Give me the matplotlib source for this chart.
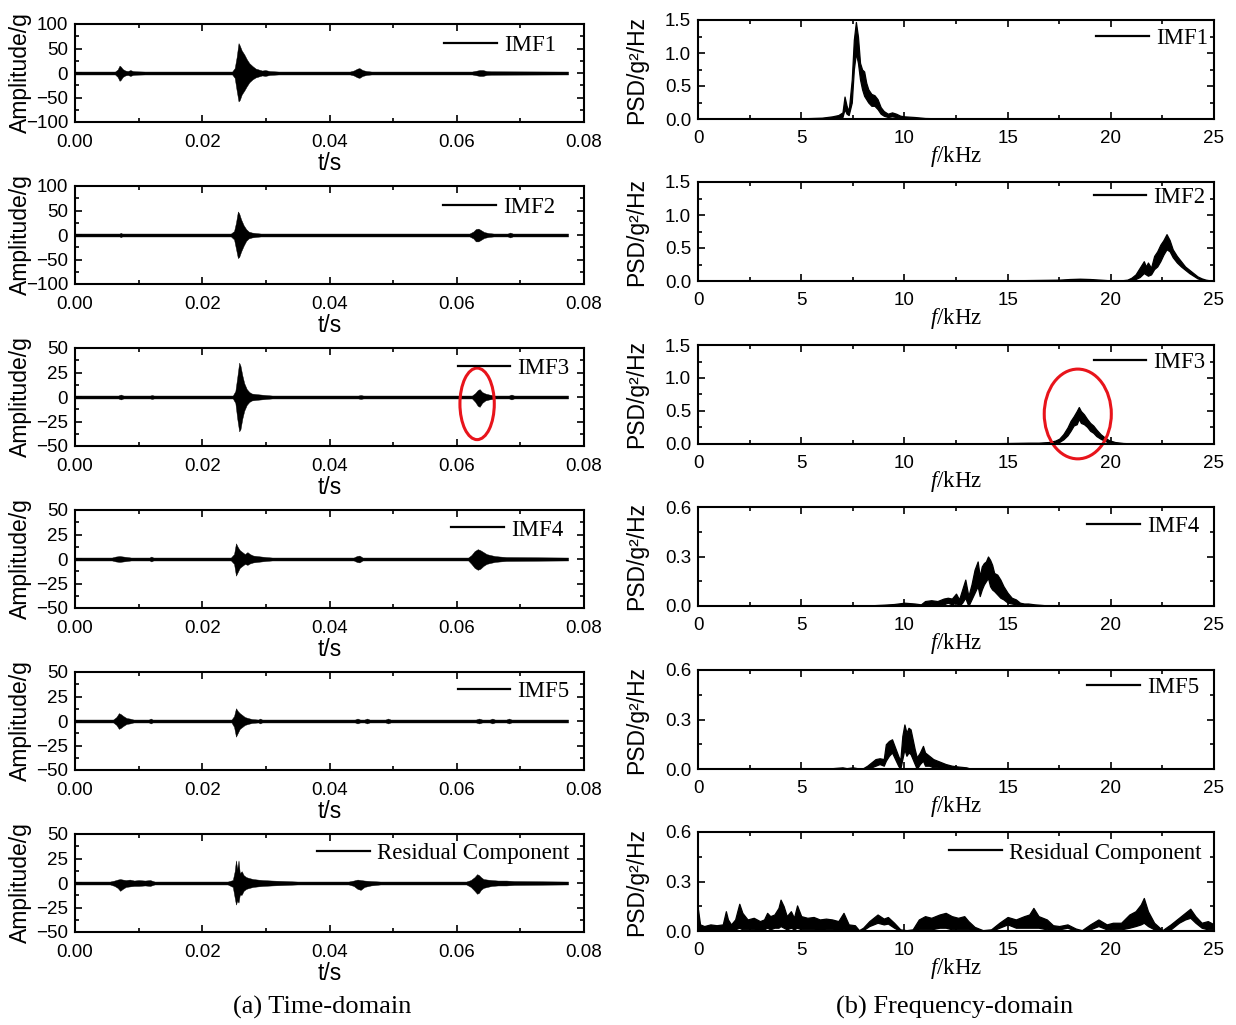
import matplotlib
matplotlib.use("Agg")
import matplotlib.pyplot as plt
from matplotlib.patches import Ellipse
from matplotlib.ticker import MultipleLocator, FormatStrFormatter
import numpy as np

plt.rcParams["mathtext.fontset"] = "custom"
plt.rcParams["mathtext.it"] = "Liberation Serif:italic"
plt.rcParams["mathtext.rm"] = "Liberation Serif"

SANS = "Liberation Sans"
SERIF = "Liberation Serif"

labels = ["IMF1", "IMF2", "IMF3", "IMF4", "IMF5", "Residual Component"]

# ---------------- time-domain envelopes (t in s, upper / lower amplitude in g) ----------------
imf1_t = [0.0000, 0.0063, 0.0067, 0.0070, 0.0072, 0.0075, 0.0079, 0.0083, 0.0087, 0.0091, 0.0096, 0.0110,
          0.0247, 0.0251, 0.0254, 0.0257, 0.0259, 0.0262, 0.0266, 0.0270, 0.0274, 0.0279, 0.0284, 0.0289,
          0.0294, 0.0299, 0.0306, 0.0320, 0.0432, 0.0438, 0.0444, 0.0447, 0.0452, 0.0458, 0.0466,
          0.0624, 0.0630, 0.0636, 0.0641, 0.0647, 0.0654, 0.0775]
imf1_up = [3, 3, 7, 15, 13, 8, 5, 4, 6, 4, 3.5, 3,
           3, 10, 32, 61, 56, 46, 38, 28, 20, 14, 9, 7, 5, 6, 4, 3,
           3, 5, 9, 10, 6, 4, 3,
           3, 4.5, 6, 6, 4, 3.5, 3]
imf1_dn = [3, 3, 8, 16, 14, 8, 5, 4, 6, 4, 3.5, 3,
           3, 10, 35, 58, 55, 44, 36, 27, 19, 13, 9, 7, 5, 6, 4, 3,
           3, 5, 9, 10, 6, 4, 3,
           3, 4.5, 6, 6, 4, 3.5, 3]

imf2_t = [0.0000, 0.0070, 0.0072, 0.0074,
          0.0245, 0.0250, 0.0253, 0.0256, 0.0258, 0.0261, 0.0265, 0.0269, 0.0273, 0.0278, 0.0284, 0.0292,
          0.0620, 0.0626, 0.0630, 0.0634, 0.0638, 0.0643, 0.0650, 0.0658,
          0.0680, 0.0684, 0.0688, 0.0775]
imf2_up = [3, 3, 4.5, 3,
           3, 8, 25, 48, 44, 32, 20, 12, 7, 5, 4, 3,
           3, 7, 12, 13, 10, 6, 4, 3,
           3, 5, 3, 3]
imf2_dn = [3, 3, 4.5, 3,
           3, 9, 28, 47, 45, 34, 22, 12, 7, 5, 4, 3,
           3, 7, 13, 13, 10, 6, 4, 3,
           3, 5, 3, 3]

imf3_t = [0.0000, 0.0068, 0.0072, 0.0076, 0.0118, 0.0121, 0.0124,
          0.0248, 0.0252, 0.0255, 0.0258, 0.0260, 0.0263, 0.0266, 0.0270, 0.0274, 0.0278, 0.0284, 0.0292,
          0.0300, 0.0310, 0.0445, 0.0449, 0.0453,
          0.0624, 0.0629, 0.0633, 0.0636, 0.0640, 0.0645, 0.0651, 0.0660,
          0.0682, 0.0686, 0.0690, 0.0775]
imf3_up = [1.5, 1.5, 2.5, 1.5, 1.5, 2, 1.5,
           1.5, 6, 20, 35, 32, 22, 14, 8, 5, 3.5, 3, 2.5, 2, 1.5,
           1.5, 2, 1.5,
           1.5, 4, 7, 8, 5, 3.5, 2.5, 1.5,
           1.5, 2.5, 1.5, 1.5]
imf3_dn = [1.5, 1.5, 2.5, 1.5, 1.5, 2, 1.5,
           1.5, 6, 22, 35, 33, 22, 14, 8, 5, 3.5, 3, 2.5, 2, 1.5,
           1.5, 2, 1.5,
           1.5, 5, 9, 10, 6, 3.5, 2.5, 1.5,
           1.5, 2.5, 1.5, 1.5]

imf4_t = [0.0000, 0.0058, 0.0064, 0.0070, 0.0076, 0.0082, 0.0088, 0.0117, 0.0120, 0.0123,
          0.0245, 0.0250, 0.0253, 0.0256, 0.0259, 0.0263, 0.0267, 0.0271, 0.0275, 0.0280, 0.0286, 0.0293,
          0.0300, 0.0310, 0.0438, 0.0443, 0.0447, 0.0452,
          0.0618, 0.0623, 0.0628, 0.0633, 0.0637, 0.0642, 0.0647, 0.0653, 0.0660, 0.0668, 0.0678, 0.0775]
imf4_up = [1.5, 1.5, 2.5, 3, 2.5, 2, 1.5, 1.5, 2.5, 1.5,
           1.5, 5, 16, 12, 9, 7, 5, 7, 5, 3.5, 3, 2.5, 2, 1.5,
           1.5, 3, 3.5, 1.5,
           1.5, 4, 8, 10, 9, 7, 5, 4, 3, 2.5, 2, 1.5]
imf4_dn = [1.5, 1.5, 2.5, 3, 2.5, 2, 1.5, 1.5, 2.5, 1.5,
           1.5, 5, 17, 13, 9, 7, 5, 6, 4.5, 3.5, 3, 2.5, 2, 1.5,
           1.5, 3, 3.5, 1.5,
           1.5, 5, 9, 11, 10, 7, 5, 4, 3, 2.5, 2, 1.5]

imf5_t = [0.0000, 0.0060, 0.0065, 0.0069, 0.0072, 0.0076, 0.0081, 0.0086, 0.0092,
          0.0116, 0.0119, 0.0122,
          0.0246, 0.0250, 0.0253, 0.0256, 0.0259, 0.0263, 0.0267, 0.0272, 0.0278,
          0.0288, 0.0291, 0.0294, 0.0440, 0.0444, 0.0448, 0.0455, 0.0459, 0.0463,
          0.0488, 0.0492, 0.0496, 0.0630, 0.0635, 0.0640, 0.0652, 0.0656, 0.0660,
          0.0678, 0.0682, 0.0686, 0.0775]
imf5_up = [1.5, 1.5, 4, 8, 7, 5, 3, 2.5, 1.5,
           1.5, 2.5, 1.5,
           1.5, 5, 13, 10, 8, 6, 4, 3, 2,
           1.5, 2.5, 1.5, 1.5, 2.5, 1.5, 1.5, 2.5, 1.5,
           1.5, 2.5, 1.5, 1.5, 2.5, 1.5, 1.5, 2.5, 1.5,
           1.5, 2.5, 1.5, 1.5]
imf5_dn = [1.5, 1.5, 4, 8, 7, 5, 3, 2.5, 1.5,
           1.5, 2.5, 1.5,
           1.5, 6, 16, 12, 8, 6, 4, 3, 2,
           1.5, 2.5, 1.5, 1.5, 2.5, 1.5, 1.5, 2.5, 1.5,
           1.5, 2.5, 1.5, 1.5, 2.5, 1.5, 1.5, 2.5, 1.5,
           1.5, 2.5, 1.5, 1.5]

res_t = [0.0000, 0.0055, 0.0062, 0.0067, 0.0071, 0.0075, 0.0080, 0.0086, 0.0093, 0.0100, 0.0110, 0.0118, 0.0125,
         0.0240, 0.0248, 0.0251, 0.0253, 0.0255, 0.0257, 0.0259, 0.0262, 0.0265, 0.0269, 0.0274, 0.0280,
         0.0287, 0.0295, 0.0310, 0.0330, 0.0350,
         0.0430, 0.0438, 0.0444, 0.0449, 0.0455, 0.0465, 0.0480,
         0.0615, 0.0622, 0.0628, 0.0632, 0.0635, 0.0638, 0.0642, 0.0648, 0.0655, 0.0665, 0.0678, 0.0690,
         0.0775]
res_up = [1.5, 1.5, 2.5, 3.5, 4, 3.5, 3, 3.5, 2.5, 3, 2.5, 3, 1.5,
          1.5, 3, 12, 23, 14, 23, 10, 12, 8, 6, 5, 4, 3.5, 3, 2.5, 2, 1.5,
          1.5, 2.5, 3.5, 3, 2.5, 2, 1.5,
          1.5, 3, 6, 9, 8, 6, 4, 3.5, 3, 2.5, 2.5, 2,
          1.5]
res_dn = [1.5, 1.5, 3, 5, 8, 6, 4, 3.5, 3, 3, 2.5, 3, 1.5,
          1.5, 4, 15, 22, 18, 20, 12, 12, 8, 6, 5, 4, 3.5, 3, 2.5, 2, 1.5,
          1.5, 3, 6, 7, 4, 2.5, 1.5,
          1.5, 4, 8, 11, 10, 7, 5, 4, 3, 2.5, 2.5, 2,
          1.5]

time_series = [(imf1_t, imf1_up, imf1_dn), (imf2_t, imf2_up, imf2_dn), (imf3_t, imf3_up, imf3_dn),
               (imf4_t, imf4_up, imf4_dn), (imf5_t, imf5_up, imf5_dn), (res_t, res_up, res_dn)]
time_ylim = [100, 100, 50, 50, 50, 50]

# ---------------- PSD bands (f in kHz, upper / lower PSD in g^2/Hz) ----------------
psd1_f = [0, 5.0, 6.0, 6.5, 6.8, 7.0, 7.1, 7.2, 7.3, 7.45, 7.55, 7.65, 7.75, 7.85, 7.95, 8.05, 8.15, 8.25,
          8.4, 8.55, 8.7, 8.85, 9.0, 9.2, 9.4, 9.6, 9.8, 10.0, 10.5, 11.0, 12.0, 13.0, 25.0]
psd1_hi = [0.005, 0.01, 0.02, 0.04, 0.06, 0.1, 0.34, 0.2, 0.12, 0.6, 1.2, 1.47, 1.25, 0.85, 0.75, 0.72, 0.55,
           0.45, 0.38, 0.36, 0.3, 0.18, 0.12, 0.08, 0.1, 0.08, 0.05, 0.04, 0.03, 0.015, 0.008, 0.005, 0.003]
psd1_lo = [0, 0, 0, 0.01, 0.02, 0.03, 0.15, 0.08, 0.06, 0.25, 0.75, 1.0, 0.85, 0.6, 0.45, 0.35, 0.3,
           0.25, 0.2, 0.2, 0.15, 0.08, 0.05, 0.03, 0.04, 0.03, 0.02, 0.01, 0.005, 0, 0, 0, 0]

psd2_f = [0, 10.0, 15.0, 17.5, 18.0, 18.5, 19.0, 19.5, 20.0, 20.5, 20.8, 21.0, 21.2, 21.4, 21.6, 21.7, 21.8,
          21.95, 22.1, 22.25, 22.4, 22.55, 22.7, 22.85, 23.0, 23.2, 23.4, 23.6, 23.8, 24.0, 24.2, 24.4, 24.6,
          24.8, 25.0]
psd2_hi = [0.003, 0.005, 0.01, 0.02, 0.03, 0.035, 0.03, 0.02, 0.01, 0.01, 0.02, 0.05, 0.1, 0.2, 0.3, 0.22,
           0.28, 0.2, 0.38, 0.45, 0.55, 0.62, 0.71, 0.62, 0.48, 0.38, 0.3, 0.22, 0.17, 0.12, 0.07, 0.04, 0.02,
           0.01, 0.005]
psd2_lo = [0, 0, 0, 0.005, 0.015, 0.02, 0.015, 0.01, 0, 0, 0.005, 0.01, 0.03, 0.06, 0.12, 0.1,
           0.08, 0.1, 0.18, 0.22, 0.3, 0.4, 0.48, 0.45, 0.36, 0.28, 0.22, 0.17, 0.12, 0.08, 0.04, 0.02, 0.01,
           0, 0]

psd3_f = [0, 12.0, 13.5, 15.0, 16.0, 16.5, 17.0, 17.3, 17.5, 17.7, 17.9, 18.05, 18.2, 18.35, 18.45, 18.55,
          18.7, 18.85, 19.0, 19.15, 19.3, 19.5, 19.7, 19.9, 20.2, 20.6, 21.0, 21.8, 22.2, 25.0]
psd3_hi = [0, 0.002, 0.01, 0.015, 0.02, 0.02, 0.03, 0.05, 0.08, 0.15, 0.25, 0.35, 0.42, 0.5, 0.56, 0.5,
           0.45, 0.38, 0.32, 0.28, 0.22, 0.15, 0.1, 0.06, 0.03, 0.015, 0.01, 0.01, 0.003, 0]
psd3_lo = [0, 0, 0, 0.005, 0.005, 0.008, 0.01, 0.02, 0.03, 0.07, 0.13, 0.2, 0.28, 0.3, 0.38, 0.32,
           0.3, 0.26, 0.2, 0.17, 0.12, 0.08, 0.05, 0.02, 0.01, 0.005, 0, 0, 0, 0]

psd4_f = [0, 8.0, 9.0, 9.5, 10.0, 10.5, 10.8, 11.0, 11.3, 11.6, 11.9, 12.1, 12.3, 12.5, 12.65, 12.8, 12.95,
          13.1, 13.25, 13.4, 13.55, 13.65, 13.75, 13.85, 13.95, 14.05, 14.15, 14.25, 14.35, 14.5, 14.65, 14.8,
          15.0, 15.2, 15.4, 15.6, 15.8, 16.0, 16.3, 16.8, 17.5, 25.0]
psd4_hi = [0, 0.002, 0.008, 0.012, 0.02, 0.015, 0.01, 0.03, 0.035, 0.03, 0.045, 0.05, 0.045, 0.075, 0.04,
           0.1, 0.16, 0.06, 0.13, 0.22, 0.27, 0.18, 0.24, 0.26, 0.27, 0.3, 0.28, 0.25, 0.2, 0.19, 0.16, 0.12,
           0.08, 0.05, 0.04, 0.02, 0.015, 0.015, 0.01, 0.005, 0.002, 0]
psd4_lo = [0, 0, 0, 0, 0.005, 0, 0, 0.005, 0.01, 0.005, 0.01, 0.02, 0.01, 0.02, 0,
           0.02, 0.05, 0, 0.04, 0.08, 0.12, 0.06, 0.1, 0.13, 0.15, 0.17, 0.12, 0.1, 0.09, 0.07, 0.05, 0.04,
           0.02, 0.015, 0.01, 0.005, 0.005, 0, 0, 0, 0, 0]

psd5_f = [0, 5.0, 6.5, 7.0, 7.2, 7.5, 7.8, 8.0, 8.2, 8.4, 8.6, 8.8, 9.0, 9.1, 9.25, 9.4, 9.55, 9.7, 9.8, 9.9,
          10.0, 10.1, 10.2, 10.3, 10.4, 10.5, 10.6, 10.75, 10.9, 11.0, 11.2, 11.4, 11.6, 11.8, 12.0, 12.3,
          12.6, 13.0, 13.2, 25.0]
psd5_hi = [0, 0.003, 0.005, 0.01, 0.005, 0.01, 0.003, 0.005, 0.02, 0.04, 0.06, 0.065, 0.06, 0.15, 0.17, 0.18,
           0.13, 0.08, 0.05, 0.2, 0.27, 0.22, 0.25, 0.24, 0.18, 0.12, 0.07, 0.1, 0.14, 0.1, 0.08, 0.06, 0.05,
           0.04, 0.03, 0.02, 0.015, 0.01, 0.002, 0]
psd5_lo = [0, 0, 0, 0, 0, 0, 0, 0, 0, 0.01, 0.02, 0.03, 0.02, 0.05, 0.08, 0.1,
           0.06, 0.02, 0, 0.06, 0.12, 0.08, 0.1, 0.09, 0.06, 0.03, 0, 0.03, 0.05, 0.02, 0.02, 0.01, 0.01,
           0.005, 0.005, 0, 0, 0, 0, 0]

psdr_f = [0.0, 0.1, 0.3, 0.6, 0.9, 1.2, 1.35, 1.45, 1.6, 1.8, 2.0, 2.15, 2.4, 2.7, 3.0, 3.2, 3.35, 3.5, 3.7,
          3.9, 4.0, 4.15, 4.3, 4.5, 4.65, 4.8, 5.0, 5.3, 5.6, 5.9, 6.2, 6.5, 6.8, 7.05, 7.3, 7.6, 7.8, 8.0,
          8.3, 8.7, 9.0, 9.2, 9.5, 9.8, 10.1, 10.4, 10.7, 11.0, 11.3, 11.7, 12.0, 12.3, 12.6, 12.9, 13.1,
          13.4, 13.8, 14.2, 14.6, 15.0, 15.4, 15.8, 16.05, 16.25, 16.5, 16.9, 17.2, 17.5, 17.9, 18.3, 18.6,
          19.0, 19.4, 19.8, 20.1, 20.5, 20.9, 21.2, 21.45, 21.6, 21.8, 22.1, 22.5, 22.9, 23.3, 23.6, 23.85,
          24.1, 24.4, 24.7, 25.0]
psdr_hi = [0.13, 0.04, 0.03, 0.04, 0.035, 0.04, 0.12, 0.07, 0.04, 0.07, 0.165, 0.11, 0.07, 0.08, 0.06, 0.07,
           0.11, 0.09, 0.1, 0.14, 0.19, 0.15, 0.09, 0.12, 0.08, 0.155, 0.09, 0.08, 0.085, 0.07, 0.075, 0.07,
           0.06, 0.11, 0.04, 0.035, 0.005, 0.02, 0.06, 0.1, 0.075, 0.085, 0.05, 0.01, 0.005, 0.01, 0.07, 0.09,
           0.08, 0.1, 0.11, 0.09, 0.08, 0.09, 0.06, 0.025, 0.005, 0.01, 0.05, 0.085, 0.07, 0.09, 0.1, 0.14,
           0.09, 0.07, 0.035, 0.03, 0.04, 0.015, 0.005, 0.04, 0.07, 0.04, 0.05, 0.05, 0.1, 0.12, 0.16, 0.2,
           0.12, 0.05, 0.005, 0.04, 0.08, 0.11, 0.135, 0.09, 0.05, 0.06, 0.04]
psdr_lo = [0, 0, 0.005, 0.005, 0.005, 0.005, 0.01, 0.005, 0.005, 0.01, 0.02, 0.01, 0.01, 0.01, 0.005, 0.01,
           0.02, 0.01, 0.02, 0.02, 0.03, 0.02, 0.01, 0.02, 0.01, 0.02, 0.01, 0.01, 0.01, 0.005, 0.01, 0.01,
           0.005, 0.01, 0.005, 0, 0, 0.005, 0.03, 0.05, 0.04, 0.045, 0.02, 0, 0, 0, 0.01, 0.01,
           0.01, 0.02, 0.02, 0.01, 0.01, 0.01, 0.01, 0.005, 0, 0, 0.02, 0.04, 0.02, 0.02, 0.02, 0.02,
           0.02, 0.01, 0.005, 0.01, 0.02, 0, 0, 0.01, 0.03, 0.01, 0.01, 0.01, 0.02, 0.03, 0.04, 0.05,
           0.03, 0.01, 0, 0.01, 0.05, 0.07, 0.08, 0.05, 0.02, 0.01, 0.01]

psd_series = [(psd1_f, psd1_hi, psd1_lo), (psd2_f, psd2_hi, psd2_lo), (psd3_f, psd3_hi, psd3_lo),
              (psd4_f, psd4_hi, psd4_lo), (psd5_f, psd5_hi, psd5_lo), (psdr_f, psdr_hi, psdr_lo)]
psd_ymax = [1.5, 1.5, 1.5, 0.6, 0.6, 0.6]

# ---------------- layout (pixels in a 1236 x 1025 canvas) ----------------
W, H = 1236, 1025
left_tops = [24, 186, 348, 510, 672, 834]
right_tops = [20, 182, 345, 507, 670, 832]
left_legend_xy = [(0.945, 0.776), (0.943, 0.776), (0.971, 0.786), (0.959, 0.796), (0.971, 0.806), (0.971, 0.806)]
right_legend_xy = [(0.988, 0.818), (0.983, 0.84), (0.983, 0.82), (0.971, 0.80), (0.971, 0.82), (0.975, 0.788)]

fig = plt.figure(figsize=(W / 100, H / 100), dpi=100)

TICK_FS = 13.5
LABEL_FS = 16.5
LEG_FS = 16.5


def style_axes(ax):
    for sp in ax.spines.values():
        sp.set_linewidth(1.5)
    ax.tick_params(which="both", direction="in", top=True, right=True, width=1.2)
    ax.tick_params(which="major", length=5)
    ax.tick_params(which="minor", length=3)
    for lab in ax.get_xticklabels() + ax.get_yticklabels():
        lab.set_fontfamily(SANS)
        lab.set_fontsize(TICK_FS)


def add_legend(ax, text, xy):
    h, = ax.plot([], [], color="black", lw=1.6)
    ax.legend([h], [text], loc="center right", bbox_to_anchor=xy, frameon=False,
              prop={"family": SERIF, "size": LEG_FS}, handlelength=2.3, handletextpad=0.3,
              borderpad=0, borderaxespad=0)


for i in range(6):
    # time domain
    top = left_tops[i]
    ax = fig.add_axes([75 / W, 1 - (top + 98) / H, 509 / W, 98 / H])
    t, up, dn = time_series[i]
    t = np.asarray(t)
    ax.fill_between(t, -np.asarray(dn), np.asarray(up), color="black", lw=0.3)
    lim = time_ylim[i]
    ax.set_xlim(0, 0.08)
    ax.set_ylim(-lim, lim)
    ax.xaxis.set_major_locator(MultipleLocator(0.02))
    ax.xaxis.set_minor_locator(MultipleLocator(0.01))
    ax.yaxis.set_major_locator(MultipleLocator(lim / 2))
    ax.yaxis.set_minor_locator(MultipleLocator(lim / 4))
    ax.xaxis.set_major_formatter(FormatStrFormatter("%.2f"))
    ax.tick_params(axis="x", pad=8.5)
    ax.tick_params(axis="y", pad=5)
    style_axes(ax)
    ax.set_xlabel("t/s", fontfamily=SANS, fontsize=LABEL_FS, va="top")
    ax.xaxis.set_label_coords(0.5, -0.31)
    ax.set_ylabel("Amplitude/g", fontfamily=SANS, fontsize=LABEL_FS)
    ax.yaxis.set_label_coords(-0.085, 0.5)
    add_legend(ax, labels[i], left_legend_xy[i])
    if i == 2:
        ax.add_patch(Ellipse((0.0632, -7), 0.0054, 73, fill=False, edgecolor="#e8141b", lw=2.2, clip_on=False))

    # frequency domain
    top = right_tops[i]
    ax = fig.add_axes([698 / W, 1 - (top + 99) / H, 516 / W, 99 / H])
    f, hi, lo = psd_series[i]
    ax.fill_between(f, lo, hi, color="black", lw=0.9)
    ymax = psd_ymax[i]
    ax.set_xlim(0, 25)
    ax.set_ylim(0, ymax)
    ax.xaxis.set_major_locator(MultipleLocator(5))
    ax.xaxis.set_minor_locator(MultipleLocator(2.5))
    ax.yaxis.set_major_locator(MultipleLocator(0.5 if ymax > 1 else 0.3))
    ax.yaxis.set_minor_locator(MultipleLocator(0.25 if ymax > 1 else 0.15))
    ax.yaxis.set_major_formatter(FormatStrFormatter("%.1f"))
    ax.tick_params(axis="x", pad=8)
    ax.tick_params(axis="y", pad=5)
    style_axes(ax)
    ax.set_xlabel(r"$\mathit{f}$/kHz", fontfamily=SERIF, fontsize=LABEL_FS, va="top")
    ax.xaxis.set_label_coords(0.5, -0.255)
    ax.set_ylabel("PSD/g²/Hz", fontfamily=SANS, fontsize=LABEL_FS)
    ax.yaxis.set_label_coords(-0.097, 0.5)
    add_legend(ax, labels[i], right_legend_xy[i])
    if i == 2:
        ax.add_patch(Ellipse((18.4, 0.455), 3.25, 1.36, fill=False, edgecolor="#e8141b", lw=2.2, clip_on=False))

fig.text(322 / W, 1 - 1007 / H, "(a) Time-domain", family=SERIF, fontsize=19, ha="center", va="center")
fig.text(955 / W, 1 - 1007 / H, "(b) Frequency-domain", family=SERIF, fontsize=19, ha="center", va="center")

fig.savefig("out.png", dpi=100)
